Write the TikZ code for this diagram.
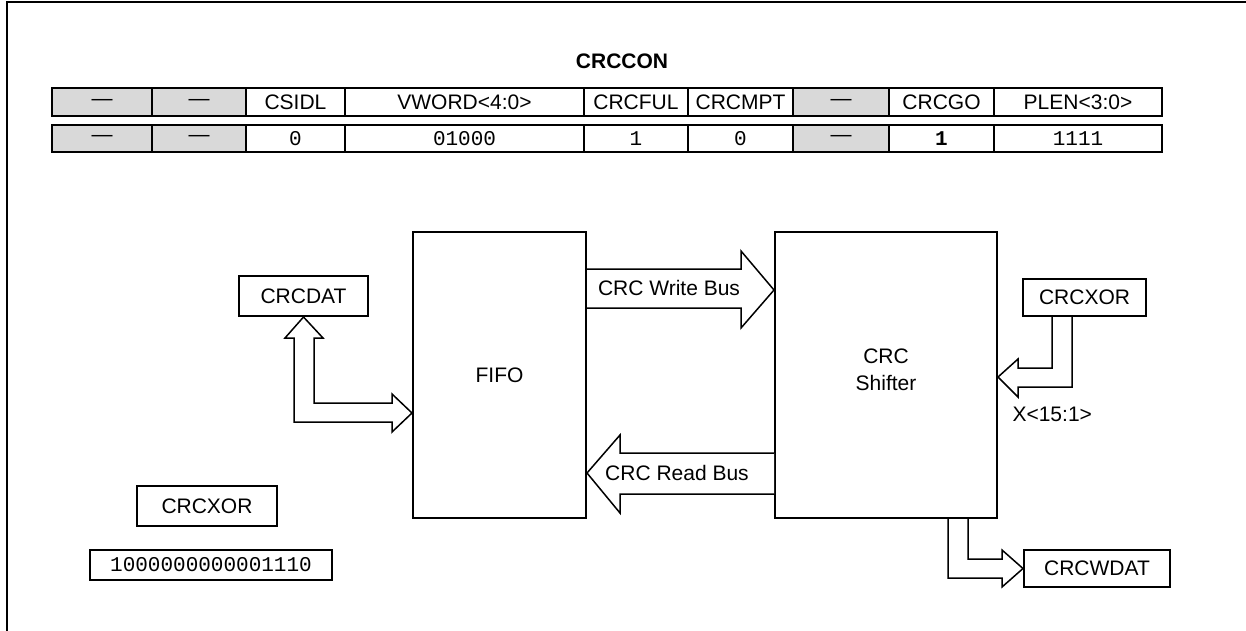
\documentclass[tikz,border=0pt]{standalone}
\usepackage{fontspec}
\setmainfont{Liberation Sans}
\setmonofont{Liberation Mono}
\usetikzlibrary{calc}
\begin{document}
\begin{tikzpicture}[x=1pt,y=-1pt,
  lbl/.style={font=\fontsize{21}{24}\selectfont},
  mono/.style={font=\ttfamily\fontsize{21}{24}\selectfont},
  boxn/.style={draw, line width=2pt, inner sep=0pt, lbl, align=center},
  cellh/.style={draw, line width=2pt, inner sep=0pt, lbl, minimum height=28pt},
  cellv/.style={draw, line width=2pt, inner sep=0pt, mono, minimum height=27pt},
  greycell/.style={fill=black!15},
  bus/.style={draw, line width=1.5pt, line join=miter, fill=white}
]
\useasboundingbox (0,0) rectangle (1246,631);
% frame
\draw[line width=2pt] (7,631) -- (7,2) -- (1246,2);

% title
\node[lbl, font=\bfseries\fontsize{21}{24}\selectfont] (title) at (622,61) {CRCCON};

% register table, header row
\node[cellh, greycell, minimum width=100pt] (h1) at (102,102) {\textemdash};
\node[cellh, greycell, minimum width=94pt]  (h2) at (199,102) {\textemdash};
\node[cellh, minimum width=99pt]  (h3) at (295.5,102) {CSIDL};
\node[cellh, minimum width=239pt] (h4) at (464.5,102) {VWORD<4:0>};
\node[cellh, minimum width=104pt] (h5) at (636,102) {CRCFUL};
\node[cellh, minimum width=105pt] (h6) at (740.5,102) {CRCMPT};
\node[cellh, greycell, minimum width=96pt]  (h7) at (841,102) {\textemdash};
\node[cellh, minimum width=105pt] (h8) at (941.5,102) {CRCGO};
\node[cellh, minimum width=168pt] (h9) at (1078,102) {PLEN<3:0>};

% value row
\node[cellv, greycell, minimum width=100pt] (v1) at (102,138.5) {\fontspec{Liberation Sans}\textemdash};
\node[cellv, greycell, minimum width=94pt]  (v2) at (199,138.5) {\fontspec{Liberation Sans}\textemdash};
\node[cellv, minimum width=99pt]  (v3) at (295.5,138.5) {0};
\node[cellv, minimum width=239pt] (v4) at (464.5,138.5) {01000};
\node[cellv, minimum width=104pt] (v5) at (636,138.5) {1};
\node[cellv, minimum width=105pt] (v6) at (740.5,138.5) {0};
\node[cellv, greycell, minimum width=96pt]  (v7) at (841,138.5) {\fontspec{Liberation Sans}\textemdash};
\node[cellv, minimum width=105pt] (v8) at (941.5,138.5) {\bfseries 1};
\node[cellv, minimum width=168pt] (v9) at (1078,138.5) {1111};

% blocks
\node[boxn, minimum width=129pt, minimum height=40pt] (crcdat) at (303.5,296) {CRCDAT};
\node[boxn, minimum width=173pt, minimum height=286pt] (fifo) at (499.5,375) {FIFO};
\node[boxn, minimum width=222pt, minimum height=286pt] (shifter) at (886,375) {};
\node[lbl, align=center, inner sep=0pt] (shlbl) at (886,370) {CRC\\[3pt]Shifter};
\node[boxn, minimum width=123pt, minimum height=37pt] (xorr) at (1084.5,297.5) {CRCXOR};
\node[boxn, minimum width=146pt, minimum height=37pt] (wdat) at (1097,568.5) {CRCWDAT};
\node[boxn, minimum width=140pt, minimum height=40pt] (xorl) at (207,506) {CRCXOR};
\node[draw, line width=2pt, inner sep=0pt, mono, minimum width=242pt, minimum height=30pt] (xorval) at (211,565) {1000000000001110};

% CRCDAT <-> FIFO
\draw[bus] (crcdat.south) -- (323,338) -- (314,338) -- (314,403) -- (392,403) -- (392,394)
  -- (fifo.west |- 0,413) -- (392,432) -- (392,422) -- (294,422) -- (294,338) -- (285,338) -- cycle;

% CRC Write Bus
\draw[bus] (fifo.east |- 0,269) -- (741,269) -- (741,251) -- (shifter.west |- 0,290)
  -- (741,328) -- (741,308) -- (fifo.east |- 0,308);
\node[lbl] (wlbl) at (669,288) {CRC Write Bus};

% CRC Read Bus
\draw[bus] (shifter.west |- 0,453) -- (620,453) -- (620,435) -- (fifo.east |- 0,473)
  -- (620,513) -- (620,494) -- (shifter.west |- 0,494);
\node[lbl] (rlbl) at (677,473) {CRC Read Bus};

% CRCXOR -> Shifter
\draw[bus] (xorr.south -| 1052,0) -- (1052,368) -- (1018,368) -- (1018,359) -- (shifter.east |- 0,377)
  -- (1018,397) -- (1018,387) -- (1072,387) -- (xorr.south -| 1072,0);
\node[lbl, anchor=west] (xlbl) at (1009,414) {X<15:1>};

% Shifter -> CRCWDAT
\draw[bus] (shifter.south -| 968,0) -- (968,559) -- (1002,559) -- (1002,550) -- (wdat.west)
  -- (1002,587) -- (1002,578) -- (948,578) -- (shifter.south -| 948,0);
\end{tikzpicture}
\end{document}
